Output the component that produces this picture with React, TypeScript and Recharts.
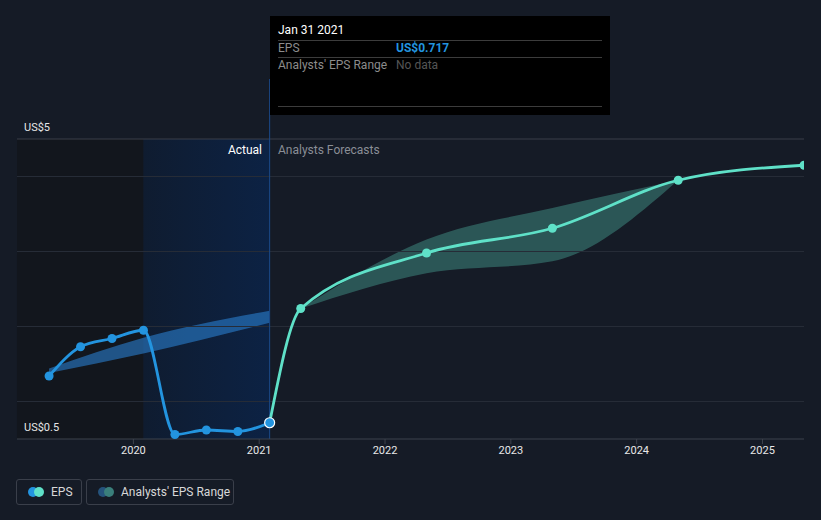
import React from 'react'
import {
  ComposedChart, Line, Area, XAxis, YAxis, ReferenceLine, ReferenceArea,
} from 'recharts'

// quarterly reporting dates as fractional years
const actualT = [2019.33, 2019.58, 2019.83, 2020.08, 2020.33, 2020.58, 2020.83, 2021.083]
const actualEps = [1.34, 1.73, 1.84, 1.95, 0.56, 0.62, 0.6, 0.717]

const forecastT = [2021.083, 2021.33, 2022.33, 2023.33, 2024.33, 2025.33]
const forecastEps = [0.717, 2.24, 2.98, 3.31, 3.95, 4.15]

const pastRangeT = [2019.33, 2020.08, 2021.083]
const pastRangeLow = [1.38, 1.64, 2.05]
const pastRangeHigh = [1.44, 1.85, 2.21]

const futureRangeT = [2021.33, 2022.33, 2023.33, 2024.33]
const futureRangeLow = [2.24, 2.71, 2.87, 3.95]
const futureRangeHigh = [2.24, 3.16, 3.58, 3.95]

const xTicks = [2020, 2021, 2022, 2023, 2024, 2025]
const yTicks = [0.5, 4.5]
const yTickLabels = ['US$0.5', 'US$5']
const gridValues = [1, 2, 3, 4]

const xMin = 2019.075
const xMax = 2025.33
const lastYearStart = 2020.08
const nowT = 2021.083

const BLUE = '#2394df'
const TEAL = '#5fe1c8'
const FONT = 'Roboto, "Noto Sans", sans-serif'

type Row = { t: number; eps?: number; fc?: number; past?: number[]; future?: number[] }

function buildRows(): Row[] {
  const map = new Map<number, Row>()
  const get = (t: number) => {
    if (!map.has(t)) map.set(t, { t })
    return map.get(t)!
  }
  actualT.forEach((t, i) => { get(t).eps = actualEps[i] })
  forecastT.forEach((t, i) => { get(t).fc = forecastEps[i] })
  pastRangeT.forEach((t, i) => { get(t).past = [pastRangeLow[i], pastRangeHigh[i]] })
  futureRangeT.forEach((t, i) => { get(t).future = [futureRangeLow[i], futureRangeHigh[i]] })
  return Array.from(map.values()).sort((a, b) => a.t - b.t)
}

const rows = buildRows()

const ActualDot = (p: any) => {
  if (p.value == null) return <g key={p.key} />
  const last = p.payload.t === nowT
  return last
    ? <circle key={p.key} cx={p.cx} cy={p.cy} r={5} fill={BLUE} stroke="#fff" strokeWidth={1.2} />
    : <circle key={p.key} cx={p.cx} cy={p.cy} r={4.5} fill={BLUE} />
}

const ForecastDot = (p: any) => {
  if (p.value == null || p.payload.t === nowT) return <g key={p.key} />
  return <circle key={p.key} cx={p.cx} cy={p.cy} r={4.5} fill={TEAL} />
}

const YTick = (p: any) => {
  const idx = yTicks.indexOf(p.payload.value)
  return (
    <text x={24} y={p.y - 8} fill="#e6e6e6" fontSize={11} fontFamily={FONT}>
      {yTickLabels[idx]}
    </text>
  )
}

const LegendItem = ({ a, b, label, w }: { a: string; b: string; label: string; w: number }) => (
  <div style={{
    width: w, height: 26, border: '1px solid #3a3f4a', borderRadius: 3, boxSizing: 'border-box',
    display: 'flex', alignItems: 'center', paddingLeft: 11, marginRight: 4,
  }}>
    <span style={{ position: 'relative', width: 16, height: 10, marginRight: 7 }}>
      <span style={{ position: 'absolute', left: 0, top: 0, width: 10, height: 10, borderRadius: 5, background: a }} />
      <span style={{ position: 'absolute', left: 6, top: 0, width: 10, height: 10, borderRadius: 5, background: b }} />
    </span>
    <span style={{ color: '#d8d8d8', fontSize: 12 }}>{label}</span>
  </div>
)

export default function App() {
  return (
    <div style={{ position: 'absolute', left: 0, top: 0, width: 821, height: 520, background: '#151b26', fontFamily: FONT }}>
      <ComposedChart
        width={821} height={520} data={rows}
        margin={{ top: 139, right: 17, bottom: 51, left: 16 }}
      >
        <defs>
          <linearGradient id="nowGrad" x1="0" y1="0" x2="1" y2="0">
            <stop offset="0%" stopColor="#0f1c30" />
            <stop offset="100%" stopColor="#0c2244" />
          </linearGradient>
        </defs>
        <XAxis
          type="number" dataKey="t" domain={[xMin, xMax]} ticks={xTicks} allowDataOverflow
          tickFormatter={(v) => String(v)}
          stroke="#3d424c" tickSize={5} height={30}
          tick={{ fill: '#e8e8e8', fontSize: 11, fontFamily: FONT }}
        />
        <YAxis
          type="number" domain={[0.5, 4.5]} ticks={yTicks} width={1} interval={0}
          axisLine={false} tickLine={false} tick={YTick}
        />
        <ReferenceArea x1={xMin} x2={lastYearStart} y1={0.5} y2={4.5} fill="#12161d" fillOpacity={1} stroke="none" />
        <ReferenceArea x1={lastYearStart} x2={nowT} y1={0.5} y2={4.5} fill="url(#nowGrad)" fillOpacity={1} stroke="none" />
        {gridValues.map((v) => (
          <ReferenceLine key={v} y={v} stroke="#262c37" strokeWidth={1} />
        ))}
        <ReferenceLine y={4.5} stroke="#3a3f48" strokeWidth={1} />
        <ReferenceLine
          segment={[{ x: nowT, y: 0.5 }, { x: nowT, y: 5.3 }]}
          ifOverflow="visible" stroke="#1a4a8a" strokeWidth={1}
        />
        <Area
          type="monotone" dataKey="past" stroke="none" fill="#2a7fcf" fillOpacity={0.6}
          connectNulls isAnimationActive={false} activeDot={false}
        />
        <Area
          type="monotone" dataKey="future" stroke="none" fill={TEAL} fillOpacity={0.3}
          connectNulls isAnimationActive={false} activeDot={false}
        />
        <Line
          type="monotone" dataKey="fc" stroke={TEAL} strokeWidth={2.8}
          connectNulls dot={ForecastDot} activeDot={false} isAnimationActive={false}
        />
        <Line
          type="monotone" dataKey="eps" stroke={BLUE} strokeWidth={2.8}
          connectNulls dot={ActualDot} activeDot={false} isAnimationActive={false}
        />
      </ComposedChart>

      <div style={{ position: 'absolute', left: 199, top: 143, width: 63, textAlign: 'right', color: '#ffffff', fontSize: 12 }}>Actual</div>
      <div style={{ position: 'absolute', left: 278, top: 143, color: '#8a8e96', fontSize: 12 }}>Analysts Forecasts</div>

      <div style={{ position: 'absolute', left: 270, top: 16, width: 340, height: 99, background: '#000', fontSize: 12 }}>
        <div style={{ position: 'absolute', left: 8, top: 7, color: '#fff' }}>Jan 31 2021</div>
        <div style={{ position: 'absolute', left: 8, right: 8, top: 24, borderTop: '1px solid #3c3c3c' }} />
        <div style={{ position: 'absolute', left: 8, top: 25, color: '#8c8c8c' }}>EPS</div>
        <div style={{ position: 'absolute', left: 126, top: 25, color: BLUE, fontWeight: 700 }}>US$0.717</div>
        <div style={{ position: 'absolute', left: 8, right: 8, top: 41, borderTop: '1px solid #3c3c3c' }} />
        <div style={{ position: 'absolute', left: 8, top: 42, color: '#8c8c8c' }}>Analysts' EPS Range</div>
        <div style={{ position: 'absolute', left: 126, top: 42, color: '#555' }}>No data</div>
        <div style={{ position: 'absolute', left: 8, right: 8, top: 90, borderTop: '1px solid #3c3c3c' }} />
      </div>

      <div style={{ position: 'absolute', left: 16, top: 479, display: 'flex' }}>
        <LegendItem a={BLUE} b={TEAL} label="EPS" w={66} />
        <LegendItem a="#25537c" b="#3a7f7b" label="Analysts' EPS Range" w={148} />
      </div>
    </div>
  )
}
